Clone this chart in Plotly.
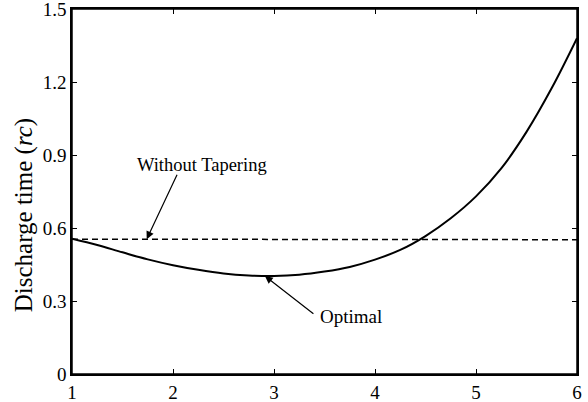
import plotly.graph_objects as go

alpha = [1.0, 1.25, 1.5, 1.75, 2.0, 2.25, 2.5, 2.75, 3.0, 3.25, 3.5, 3.75,
         4.0, 4.25, 4.5, 4.75, 5.0, 5.25, 5.5, 5.75, 6.0]
optimal = [0.556, 0.530, 0.500, 0.471, 0.447, 0.428, 0.413, 0.405, 0.403, 0.408,
           0.421, 0.440, 0.470, 0.510, 0.567, 0.640, 0.730, 0.845, 0.995, 1.175, 1.380]
without_x = [1.0, 6.0]
without_y = [0.554, 0.552]

xticks = [1, 2, 3, 4, 5, 6]
yticks = [0, 0.3, 0.6, 0.9, 1.2, 1.5]
ytick_labels = ["0", "0.3", "0.6", "0.9", "1.2", "1.5"]

font = "Liberation Serif, Times New Roman, serif"

fig = go.Figure()
fig.add_trace(go.Scatter(x=without_x, y=without_y, mode="lines",
                         line=dict(color="black", width=1.5, dash="6px,4px"),
                         showlegend=False))
fig.add_trace(go.Scatter(x=alpha, y=optimal, mode="lines", line_shape="spline",
                         line=dict(color="black", width=2), showlegend=False))

fig.add_shape(type="rect", xref="paper", yref="paper", x0=0, x1=1, y0=0, y1=1,
              line=dict(color="black", width=1.5), layer="above")

fig.add_annotation(x=1.74, y=0.554, ax=31, ay=-66, text="", showarrow=True,
                   arrowhead=2, arrowsize=1.3, arrowwidth=1.2, arrowcolor="black")
fig.add_annotation(x=2.284, y=0.86, text="Without Tapering", showarrow=False,
                   xanchor="center", yanchor="middle",
                   font=dict(family=font, size=18.5, color="black"))
fig.add_annotation(x=2.91, y=0.403, ax=50, ay=39, text="", showarrow=True,
                   arrowhead=2, arrowsize=1.3, arrowwidth=1.2, arrowcolor="black")
fig.add_annotation(x=3.76, y=0.236, text="Optimal", showarrow=False,
                   xanchor="center", yanchor="middle",
                   font=dict(family=font, size=19, color="black"))
fig.add_annotation(x=0.5, y=0, xref="paper", yref="paper", text="α",
                   showarrow=False, yanchor="top", yshift=-19,
                   font=dict(family=font, size=20, color="black"))
fig.add_annotation(x=0, y=0.435, xref="paper", yref="paper",
                   text="Discharge time (<i>rc</i>)", textangle=-90,
                   showarrow=False, xanchor="center", yanchor="middle", xshift=-48,
                   font=dict(family=font, size=25, color="black"))

fig.update_xaxes(range=[1, 6], tickvals=xticks, ticks="inside", ticklen=5,
                 tickwidth=1.2, tickcolor="black", showgrid=False, zeroline=False,
                 showline=True, linecolor="black", linewidth=1.5, mirror="ticks",
                 automargin=False, ticklabeloverflow="allow",
                 tickfont=dict(family=font, size=19, color="black"))
fig.update_yaxes(range=[0, 1.5], tickvals=yticks, ticktext=ytick_labels,
                 ticks="inside", ticklen=5, tickwidth=1.2, tickcolor="black",
                 showgrid=False, zeroline=False, showline=True, linecolor="black",
                 linewidth=1.5, mirror="ticks", automargin=False,
                 ticklabeloverflow="allow",
                 tickfont=dict(family=font, size=19, color="black"))

fig.update_layout(width=588, height=402, plot_bgcolor="white", paper_bgcolor="white",
                  margin=dict(l=72, r=11, t=9, b=28))
fig.write_html("out.html", config={"displayModeBar": False},
               post_script="document.body.style.margin='0';document.body.style.overflow='hidden';")
